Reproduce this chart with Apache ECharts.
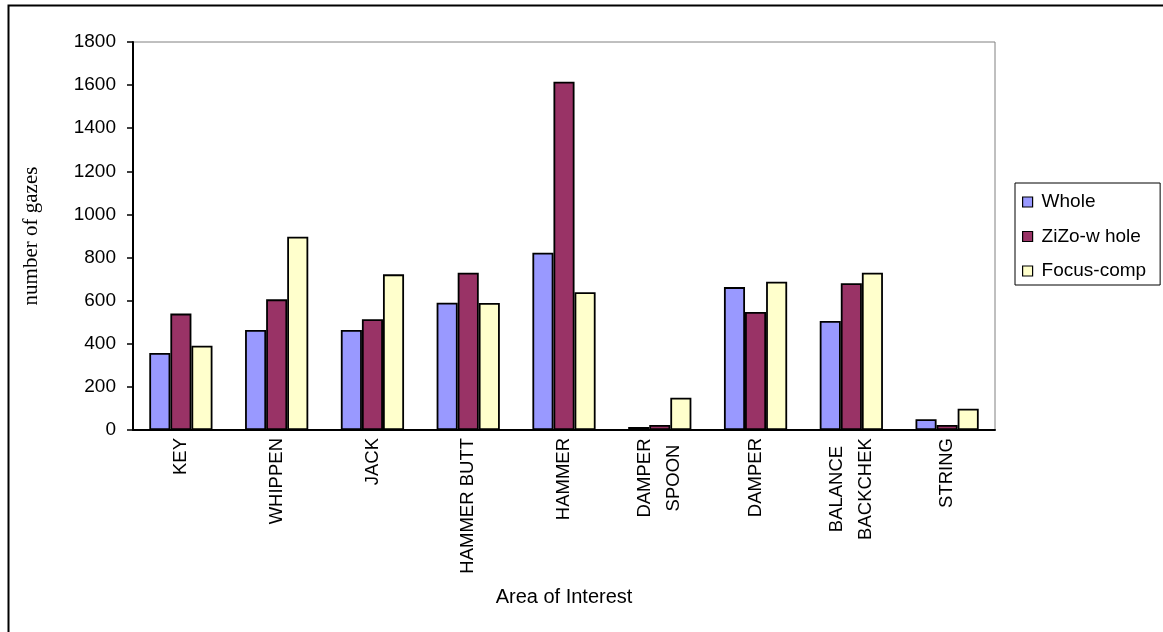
<!DOCTYPE html>
<html>
<head>
<meta charset="utf-8">
<script src="https://cdn.jsdelivr.net/npm/echarts@6/dist/echarts.min.js"></script>
<style>
html,body{margin:0;padding:0;background:#fff;}
#chart{width:1163px;height:632px;}
</style>
</head>
<body>
<div id="chart"></div>
<script>
const categories = ['KEY', 'WHIPPEN', 'JACK', 'HAMMER BUTT', 'HAMMER', 'DAMPER\nSPOON', 'DAMPER', 'BALANCE\nBACKCHEK', 'STRING'];
const seriesNames = ['Whole', 'ZiZo-w hole', 'Focus-comp'];
const whole = [357, 464, 464, 590, 822, 14, 663, 506, 50];
const zizo = [540, 606, 514, 730, 1616, 23, 548, 681, 23];
const focus = [391, 897, 722, 589, 639, 150, 688, 730, 99];
const yTicks = { min: 0, max: 1800, interval: 200 };
const colors = ['#9999FF', '#993366', '#FFFFCC'];

const font = '"Liberation Sans", Arial, sans-serif';
const catFontSize = 18.5;

// Build rich styles so that multi-line category labels are centred line by line
const measureCtx = document.createElement('canvas').getContext('2d');
measureCtx.font = catFontSize + 'px ' + font;
const rich = {};
categories.forEach(function (c, i) {
  const lines = c.split('\n');
  if (lines.length > 1) {
    const w = Math.ceil(Math.max.apply(null, lines.map(function (s) { return measureCtx.measureText(s).width; })));
    rich['c' + i] = { width: w, align: 'center', fontFamily: font, fontSize: catFontSize, color: '#000', lineHeight: 29 };
  }
});

const chart = echarts.init(document.getElementById('chart'));
const mk = (name, data, color) => ({
  name: name,
  type: 'bar',
  data: data,
  barGap: '0%',
  barCategoryGap: '34%',
  itemStyle: { color: color, borderColor: '#000', borderWidth: 1.8 },
  emphasis: { disabled: true }
});
chart.setOption({
  animation: false,
  backgroundColor: '#fff',
  graphic: [{
    type: 'rect', left: 6, top: 3, z: 100,
    shape: { width: 1180, height: 660 },
    style: { fill: 'none', stroke: '#000', lineWidth: 2 }
  }],
  grid: { left: 133, top: 42, right: 168, bottom: 202, show: true, borderColor: '#808080', borderWidth: 1 },
  legend: {
    orient: 'vertical',
    left: 1015, top: 183,
    padding: [9, 14, 4, 7],
    itemGap: 14.5,
    itemWidth: 10, itemHeight: 10,
    icon: 'rect',
    borderColor: '#000', borderWidth: 1,
    textStyle: { fontFamily: font, fontSize: 19, lineHeight: 20, color: '#000', padding: [0, 0, 0, 4] },
    itemStyle: { borderColor: '#000', borderWidth: 1.2 },
    data: seriesNames
  },
  xAxis: {
    type: 'category',
    data: categories,
    name: 'Area of Interest',
    nameLocation: 'middle',
    nameGap: 157,
    nameTextStyle: { fontFamily: font, fontSize: 20, color: '#000' },
    axisLine: { lineStyle: { color: '#000', width: 2 } },
    axisTick: { inside: true, length: 4, lineStyle: { color: '#000', width: 1.5 } },
    axisLabel: {
      rotate: 90, margin: 8, interval: 0,
      fontFamily: font, fontSize: catFontSize, color: '#000', lineHeight: 29,
      formatter: function (v, i) {
        const lines = v.split('\n');
        if (lines.length === 1) return v;
        return lines.map(function (s) { return '{c' + i + '|' + s + '}'; }).join('\n');
      },
      rich: rich
    }
  },
  yAxis: {
    type: 'value',
    min: yTicks.min, max: yTicks.max, interval: yTicks.interval,
    name: 'number of gazes',
    nameLocation: 'middle',
    nameGap: 91,
    nameTextStyle: { fontFamily: '"Liberation Serif", "Times New Roman", serif', fontSize: 21, color: '#000' },
    axisLine: { show: true, lineStyle: { color: '#000', width: 2 } },
    axisTick: { show: true, length: 6, lineStyle: { color: '#000', width: 1.5 } },
    axisLabel: { margin: 17, fontFamily: font, fontSize: 19, color: '#000', formatter: function (v) { return String(v); } },
    splitLine: { show: false }
  },
  series: [
    mk(seriesNames[0], whole, colors[0]),
    mk(seriesNames[1], zizo, colors[1]),
    mk(seriesNames[2], focus, colors[2])
  ]
});
</script>
</body>
</html>
